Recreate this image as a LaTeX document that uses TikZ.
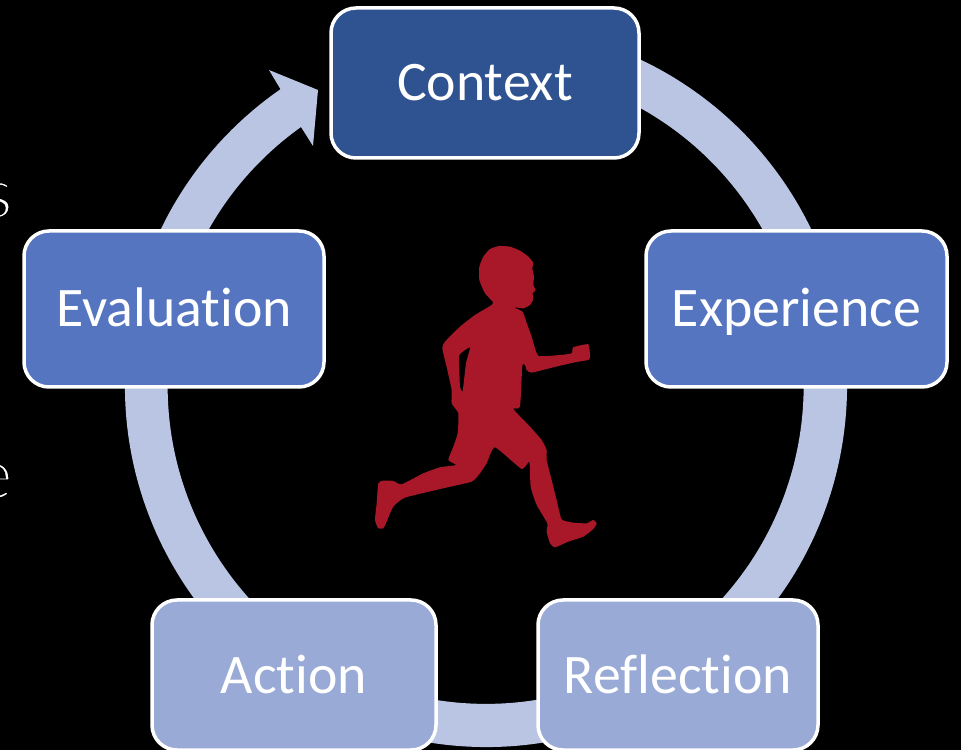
\documentclass[tikz,border=0pt]{standalone}
\usepackage{fontspec}
\setmainfont{Carlito}[Ligatures=NoCommon]
\tikzset{
    phasebox/.style={draw=white, line width=3.5pt, rounded corners=25pt, anchor=center,
        text=white, font=\fontsize{55.8}{60}\selectfont, inner sep=0pt, text height=41pt, text depth=5pt},
    ringfill/.style={fill=ringblue},
    cutletter/.style={text=white, font=\fontsize{75}{75}\selectfont, inner sep=0pt}
}
\definecolor{ringblue}{HTML}{B9C5E2}
\definecolor{boxdark}{HTML}{2F5290}
\definecolor{boxmid}{HTML}{5575C0}
\definecolor{boxlight}{HTML}{9AAAD6}
\definecolor{runnerred}{HTML}{A81829}
\newcommand{\thinglyph}[1]{\special{pdf:code 2 Tr 3.2 w 0 0 0 RG}#1\special{pdf:code 0 Tr}}
\begin{document}
\begin{tikzpicture}[x=1pt, y=1pt]
    \fill[black] (0,0) rectangle (961,750);
    \clip (0,0) rectangle (961,750);
    \def\Rout{361} % ring radii
    \def\Rin{318}

    \coordinate (hub) at (486,364);

    % letters cut off by the left edge
    \node[cutletter] (letterS) at (-2,550) {\thinglyph{s}};
    \node[cutletter] (letterE) at (-6,269) {\thinglyph{e}};

    % ring with its arrow head
    \fill[ringfill] ([shift={(80:\Rout)}]hub) arc[start angle=80, end angle=-235.3, radius=\Rout]
        -- (269,680) -- (318,660) -- (313,604) -- (301,623)
        arc[start angle=-234.5, end angle=80, radius=\Rin] -- cycle;

    % phases
    \node[phasebox, fill=boxdark, minimum width=308pt, minimum height=150pt] (context) at (485,667) {Context};
    \node[phasebox, fill=boxmid, minimum width=301pt, minimum height=156pt] (experience) at (796.5,441) {Experience};
    \node[phasebox, fill=boxmid, minimum width=300pt, minimum height=156pt] (evaluation) at (174,441) {Evaluation};
    \node[phasebox, fill=boxlight, minimum width=284pt, minimum height=150pt] (action) at (294,75) {Action};
    \node[phasebox, fill=boxlight, minimum width=280pt, minimum height=150pt] (reflection) at (678,75) {Reflection};

    % runner
    \begin{scope}[shift={(360,520)}, x=.3333pt, y=-.3333pt]
        \fill[runnerred, even odd rule] plot[smooth cycle, tension=.3] coordinates {
            (418,48) (450,50) (480,62) (505,80) (520,98) (517,115) (522,140) (520,165) (527,180) (518,190)
            (520,208) (510,225) (490,235) (462,232) (488,245) (497,270) (515,320) (535,377) (600,375) (635,370)
            (640,352) (685,343) (690,380) (685,390) (645,397) (580,412) (515,428) (500,420) (495,405) (487,408)
            (480,530) (460,537) (510,590) (545,630) (560,660) (560,690) (575,750) (590,810) (605,868) (640,878)
            (680,880) (700,870) (710,880) (700,897) (670,920) (625,935) (585,952) (570,940) (560,905) (562,880)
            (530,825) (512,770) (508,695) (485,717) (405,652) (380,700) (360,730) (335,755) (250,775) (135,803)
            (100,830) (78,880) (70,895) (55,895) (45,870) (50,820) (55,760) (70,752) (100,753) (125,763)
            (190,730) (240,712) (288,705) (265,690) (280,650) (293,610) (295,550) (275,520) (275,480) (262,420)
            (247,355) (255,335) (300,290) (345,255) (395,225) (398,215) (375,190) (358,150) (358,110) (370,80)
            (390,57)}
            plot[smooth cycle, tension=.3] coordinates {(298,375) (330,352) (318,400) (308,483) (300,470) (298,420)};
    \end{scope}
\end{tikzpicture}
\end{document}
